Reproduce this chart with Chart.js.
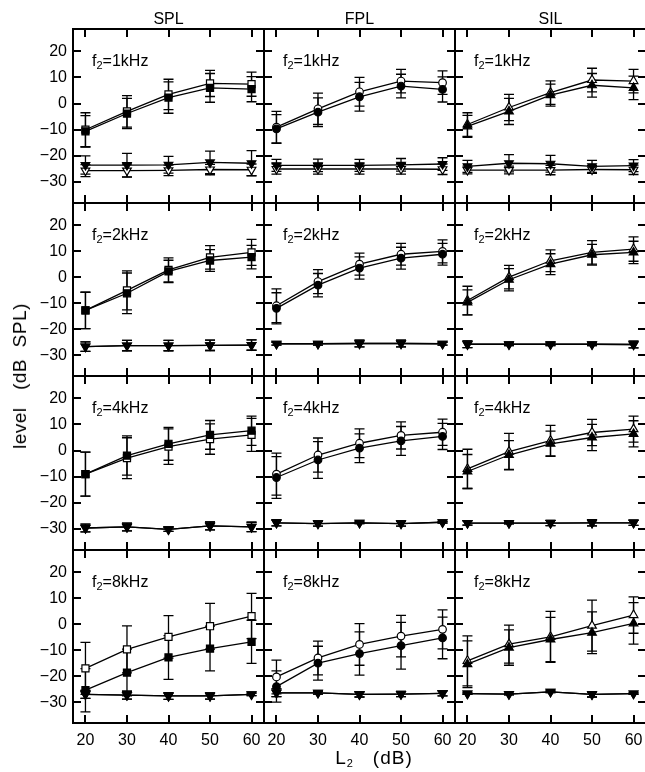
<!DOCTYPE html>
<html>
<head>
<meta charset="utf-8">
<script src="https://cdn.jsdelivr.net/npm/chart.js@4.4.0/dist/chart.umd.min.js"></script>
<style>
  html, body { margin: 0; padding: 0; background: #fff; overflow: hidden; }
  #fig { position: relative; width: 645px; height: 772px; font-family: "Liberation Sans", Arial, sans-serif; color: #000; }
  #fig canvas { position: absolute; }
  .txt { position: absolute; white-space: nowrap; transform: translate(-50%, -50%); }
  .flab { position: absolute; white-space: nowrap; font-size: 16px; transform: translateY(-50%); }
  sub { font-size: 11px; vertical-align: -3px; line-height: 0; }
</style>
</head>
<body>
<div id="fig"></div>
<script>
// L2 levels (x) and axis ticks
const L2 = [20, 30, 40, 50, 60];
const yTicks = [-30, -20, -10, 0, 10, 20];
const columns = ['SPL', 'FPL', 'SIL'];
const freqs = ['1kHz', '2kHz', '4kHz', '8kHz'];

// SPL column, one row per f2
const splOpen = [[-10, -3, 3.5, 7.7, 7.4], [-12.8, -5.1, 2.8, 7.6, 9.5], [-9, -2.9, 1.5, 4.4, 6], [-17, -9.7, -4.9, -0.8, 3.1]];
const splOpenSd = [[6.5, 6, 5.8, 5, 4.6], [7, 7.5, 4.6, 4.5, 5], [8.4, 7.8, 6.8, 5.8, 6.3], [10, 9, 8.2, 8.8, 8.7]];
const splFilled = [[-10.6, -3.8, 2.3, 6, 5.5], [-12.8, -6.2, 2.2, 6.4, 7.7], [-9, -1.9, 2.6, 6, 7.6], [-25.4, -18.6, -12.8, -9.4, -6.8]];
const splFilledSd = [[6, 5.8, 6, 5.5, 4.8], [7, 7.8, 4.3, 4.2, 4.5], [8.4, 7.5, 6.3, 5.5, 5.6], [8.3, 9, 8.4, 8.6, 8.3]];
const splNoise = [[-23.5, -23.5, -23.4, -22.5, -22.8], [-26.7, -26.3, -26.3, -26.2, -26.1], [-29.6, -29.2, -30.1, -28.8, -29.2], [-27, -27.3, -27.6, -27.6, -27]];
const splNoiseSd = [[3.5, 4.5, 3.2, 4.3, 4.8], [1.8, 2, 2, 2, 2], [1.5, 1.5, 0.8, 1.5, 1.8], [1.5, 1.5, 1.3, 1.2, 0.5]];
const splNoiseOpen = [[-25.6, -25.6, -25.5, -25.2, -25.3], [-26.7, -26.3, -26.3, -26.2, -26.1], [-29.6, -29.2, -30.1, -28.8, -29.2], [-27, -27.3, -27.6, -27.6, -27]];
const splNoiseOpenSd = [[2.3, 2.5, 2, 2, 2.2], [1.8, 2, 2, 2, 2], [1.5, 1.5, 0.8, 1.5, 1.8], [1.5, 1.5, 1.3, 1.2, 0.5]];

// FPL column
const fplOpen = [[-9, -2, 4.5, 8.6, 8], [-11, -1.7, 5, 8.8, 9.9], [-9, -1.7, 2.8, 5.8, 7], [-20.3, -13, -7.8, -4.6, -2]];
const fplOpenSd = [[6, 6, 5.5, 4.5, 4.5], [6.5, 4.6, 4.2, 4.2, 4.4], [8, 6.5, 5.5, 5.2, 5], [6.5, 6.5, 8, 8, 7.5]];
const fplFilled = [[-9.7, -3.3, 2.6, 6.7, 5.4], [-12, -3.1, 3.5, 7.3, 8.8], [-10.3, -3.6, 0.9, 3.7, 5.4], [-24, -15, -11.3, -8.3, -5.3]];
const fplFilledSd = [[5.5, 5.5, 5.5, 4.5, 4.8], [6, 4.5, 4.3, 4.2, 4.2], [8, 7, 5.5, 5.5, 5], [6, 6.5, 8.3, 9, 8]];
const fplNoise = [[-23.6, -23.6, -23.6, -23.4, -23.1], [-25.6, -25.6, -25.5, -25.5, -25.6], [-27.6, -27.9, -27.6, -27.9, -27.4], [-26.4, -26.4, -27, -26.9, -26.6]];
const fplNoiseSd = [[2.3, 2.4, 2.3, 2.4, 2.4], [0.5, 0.5, 1.3, 1.3, 0.5], [1.2, 1, 0.3, 1, 0.3], [1.5, 0.5, 1, 1, 1]];
const fplNoiseOpen = [[-25, -25, -25, -25, -25.1], [-25.6, -25.6, -25.5, -25.5, -25.6], [-27.6, -27.9, -27.6, -27.9, -27.4], [-26.4, -26.4, -27, -26.9, -26.6]];
const fplNoiseOpenSd = [[2, 2, 2, 2, 2], [0.5, 0.5, 1.3, 1.3, 0.5], [1.2, 1, 0.3, 1, 0.3], [1.5, 0.5, 1, 1, 1]];

// SIL column
const silOpen = [[-8, -1.5, 4.2, 9, 8.6], [-9, 0, 6.3, 9.5, 10.8], [-7, -0.4, 3.8, 6.9, 8.2], [-14.1, -7.7, -4.9, -0.6, 3.5]];
const silOpenSd = [[4.5, 5, 4.5, 4.5, 4.5], [5.5, 4.5, 4.2, 4.5, 4.7], [7.5, 7, 5.8, 5, 5], [9.6, 7.3, 9.8, 9.8, 7]];
const silFilled = [[-8.7, -3, 3.2, 7, 6], [-9.7, -1, 5, 8.6, 9.5], [-8, -1.7, 2.6, 5, 6.4], [-15.4, -9, -5.9, -3.3, 0.3]];
const silFilledSd = [[4.2, 5, 4.2, 4.5, 4.5], [4.8, 4.3, 4, 4, 4.3], [6.5, 5.5, 4.8, 5, 5], [9, 6.8, 8.5, 8, 8]];
const silNoise = [[-24, -22.8, -23, -24, -23.7], [-25.8, -25.8, -25.8, -25.8, -25.9], [-27.7, -27.7, -27.7, -27.6, -27.6], [-26.7, -26.9, -26, -27, -26.7]];
const silNoiseSd = [[2.3, 3.3, 3.2, 2.3, 2.3], [1.3, 0.5, 0.5, 0.5, 1.3], [0.8, 0.3, 1, 1.2, 1], [0.3, 0.3, 0.3, 1, 0.3]];
const silNoiseOpen = [[-25.4, -25.4, -25.4, -25.2, -25.3], [-25.8, -25.8, -25.8, -25.8, -25.9], [-27.7, -27.7, -27.7, -27.6, -27.6], [-26.7, -26.9, -26, -27, -26.7]];
const silNoiseOpenSd = [[1.5, 1.5, 1.8, 1.5, 1.8], [1.3, 0.5, 0.5, 0.5, 1.3], [0.8, 0.3, 1, 1.2, 1], [0.3, 0.3, 0.3, 1, 0.3]];

const colData = [
    { open: splOpen, openSd: splOpenSd, filled: splFilled, filledSd: splFilledSd, noise: splNoise, noiseSd: splNoiseSd, noiseOpen: splNoiseOpen, noiseOpenSd: splNoiseOpenSd, style: 'rect', radius: 5 },
    { open: fplOpen, openSd: fplOpenSd, filled: fplFilled, filledSd: fplFilledSd, noise: fplNoise, noiseSd: fplNoiseSd, noiseOpen: fplNoiseOpen, noiseOpenSd: fplNoiseOpenSd, style: 'circle', radius: 3.8 },
    { open: silOpen, openSd: silOpenSd, filled: silFilled, filledSd: silFilledSd, noise: silNoise, noiseSd: silNoiseSd, noiseOpen: silNoiseOpen, noiseOpenSd: silNoiseOpenSd, style: 'triangle', radius: 5 }
];

// panel geometry
const GRID_LEFT = 73, GRID_TOP = 29, COL_W = 191, ROW_H = 173.5;
const FONT = '"Liberation Sans", Arial, sans-serif';

const fig = document.getElementById('fig');

function addText(html, x, y, cls, extra) {
    const d = document.createElement('div');
    d.className = cls;
    d.innerHTML = html;
    d.style.left = x + 'px';
    d.style.top = y + 'px';
    if (extra) Object.assign(d.style, extra);
    fig.appendChild(d);
}

// error bars under the markers
const errorBars = {
    id: 'errorBars',
    beforeDatasetsDraw(chart) {
        const ctx = chart.ctx;
        const yScale = chart.scales.y;
        const a = chart.chartArea;
        ctx.save();
        ctx.beginPath();
        ctx.rect(a.left, a.top, a.right - a.left, a.bottom - a.top);
        ctx.clip();
        ctx.strokeStyle = '#000';
        ctx.lineWidth = 1.3;
        chart.data.datasets.forEach((ds, di) => {
            const meta = chart.getDatasetMeta(di);
            ds.data.forEach((p, i) => {
                const sd = ds.sd[i];
                const px = meta.data[i].x;
                const y1 = yScale.getPixelForValue(p.y + sd);
                const y2 = yScale.getPixelForValue(p.y - sd);
                ctx.beginPath();
                ctx.moveTo(px, y1); ctx.lineTo(px, y2);
                ctx.moveTo(px - 5, y1); ctx.lineTo(px + 5, y1);
                ctx.moveTo(px - 5, y2); ctx.lineTo(px + 5, y2);
                ctx.stroke();
            });
        });
        ctx.restore();
    }
};

// panel frame with inward ticks
const frame = {
    id: 'frame',
    afterDraw(chart) {
        const ctx = chart.ctx;
        const a = chart.chartArea;
        const xs = chart.scales.x, ys = chart.scales.y;
        ctx.save();
        ctx.strokeStyle = '#000';
        ctx.lineWidth = 2;
        ctx.strokeRect(a.left, a.top, a.right - a.left, a.bottom - a.top);
        ctx.beginPath();
        L2.forEach(v => {
            const px = Math.round(xs.getPixelForValue(v));
            ctx.moveTo(px, a.top); ctx.lineTo(px, a.top + 8);
            ctx.moveTo(px, a.bottom); ctx.lineTo(px, a.bottom - 8);
        });
        yTicks.forEach(v => {
            const py = Math.round(ys.getPixelForValue(v));
            ctx.moveTo(a.left, py); ctx.lineTo(a.left + 8, py);
            ctx.moveTo(a.right, py); ctx.lineTo(a.right - 8, py);
        });
        ctx.stroke();
        ctx.restore();
    }
};

function series(vals, sd, style, radius, filled, rotation) {
    return {
        data: L2.map((x, i) => ({ x: x, y: vals[i] })),
        sd: sd,
        borderColor: '#000',
        borderWidth: 1.3,
        pointStyle: style,
        pointRadius: radius,
        pointRotation: rotation,
        pointBorderWidth: 1.2,
        pointBorderColor: '#000',
        pointBackgroundColor: filled ? '#000' : '#fff',
        fill: false,
        tension: 0
    };
}

for (let r = 0; r < 4; r++) {
    const top = Math.round(GRID_TOP + r * ROW_H);
    const bottom = Math.round(GRID_TOP + (r + 1) * ROW_H);
    const panelH = bottom - top;
    for (let c = 0; c < 3; c++) {
        const left = GRID_LEFT + c * COL_W;
        const cd = colData[c];
        const padL = c === 0 ? 0 : 8;
        const yAxisW = c === 0 ? 66 : 0;
        const padB = r === 3 ? 0 : 8;
        const xAxisH = r === 3 ? 30 : 0;

        const canvas = document.createElement('canvas');
        canvas.width = padL + yAxisW + COL_W + 8;
        canvas.height = 8 + panelH + xAxisH + padB;
        canvas.style.left = (left - padL - yAxisW) + 'px';
        canvas.style.top = (top - 8) + 'px';
        fig.appendChild(canvas);

        new Chart(canvas, {
            type: 'line',
            data: {
                datasets: [
                    series(cd.noise[r], cd.noiseSd[r], 'triangle', 5, true, 180),
                    series(cd.filled[r], cd.filledSd[r], cd.style, cd.radius, true, 0),
                    series(cd.noiseOpen[r], cd.noiseOpenSd[r], 'triangle', 5, false, 180),
                    series(cd.open[r], cd.openSd[r], cd.style, cd.radius, false, 0)
                ]
            },
            options: {
                responsive: false,
                animation: false,
                layout: { padding: { left: padL, right: 8, top: 8, bottom: padB } },
                plugins: { legend: { display: false }, tooltip: { enabled: false } },
                scales: {
                    x: {
                        type: 'linear', min: 17, max: 63,
                        display: r === 3,
                        grid: { display: false, drawTicks: false },
                        border: { display: false },
                        afterBuildTicks: s => { s.ticks = L2.map(v => ({ value: v })); },
                        afterFit: s => { s.height = xAxisH; s.paddingLeft = 0; s.paddingRight = 0; },
                        ticks: { color: '#000', font: { family: FONT, size: 16 }, padding: 8, maxRotation: 0 }
                    },
                    y: {
                        type: 'linear', min: -38, max: 28.5,
                        display: c === 0,
                        grid: { display: false, drawTicks: false },
                        border: { display: false },
                        afterBuildTicks: s => { s.ticks = yTicks.map(v => ({ value: v })); },
                        afterFit: s => { s.width = yAxisW; s.paddingTop = 0; s.paddingBottom = 0; },
                        ticks: {
                            color: '#000', font: { family: FONT, size: 16 }, padding: 6,
                            callback: v => String(v).replace('-', '\u2212')
                        }
                    }
                }
            },
            plugins: [errorBars, frame]
        });

        addText('f<sub>2</sub>=' + freqs[r], left + 19, top + 32, 'flab');
    }
}

// column titles and axis titles
columns.forEach((t, c) => addText(t, GRID_LEFT + c * COL_W + COL_W / 2, 19, 'txt', { fontSize: '16px' }));
addText('level&nbsp;&nbsp;&nbsp;(dB&nbsp;&nbsp;SPL)', 20, 376, 'txt', { fontSize: '19px', letterSpacing: '0.5px', transform: 'translate(-50%, -50%) rotate(-90deg)' });
addText('L<sub>2</sub>&nbsp;&nbsp;&nbsp;(dB)', 374, 758, 'txt', { fontSize: '19px', letterSpacing: '1px' });
</script>
</body>
</html>
